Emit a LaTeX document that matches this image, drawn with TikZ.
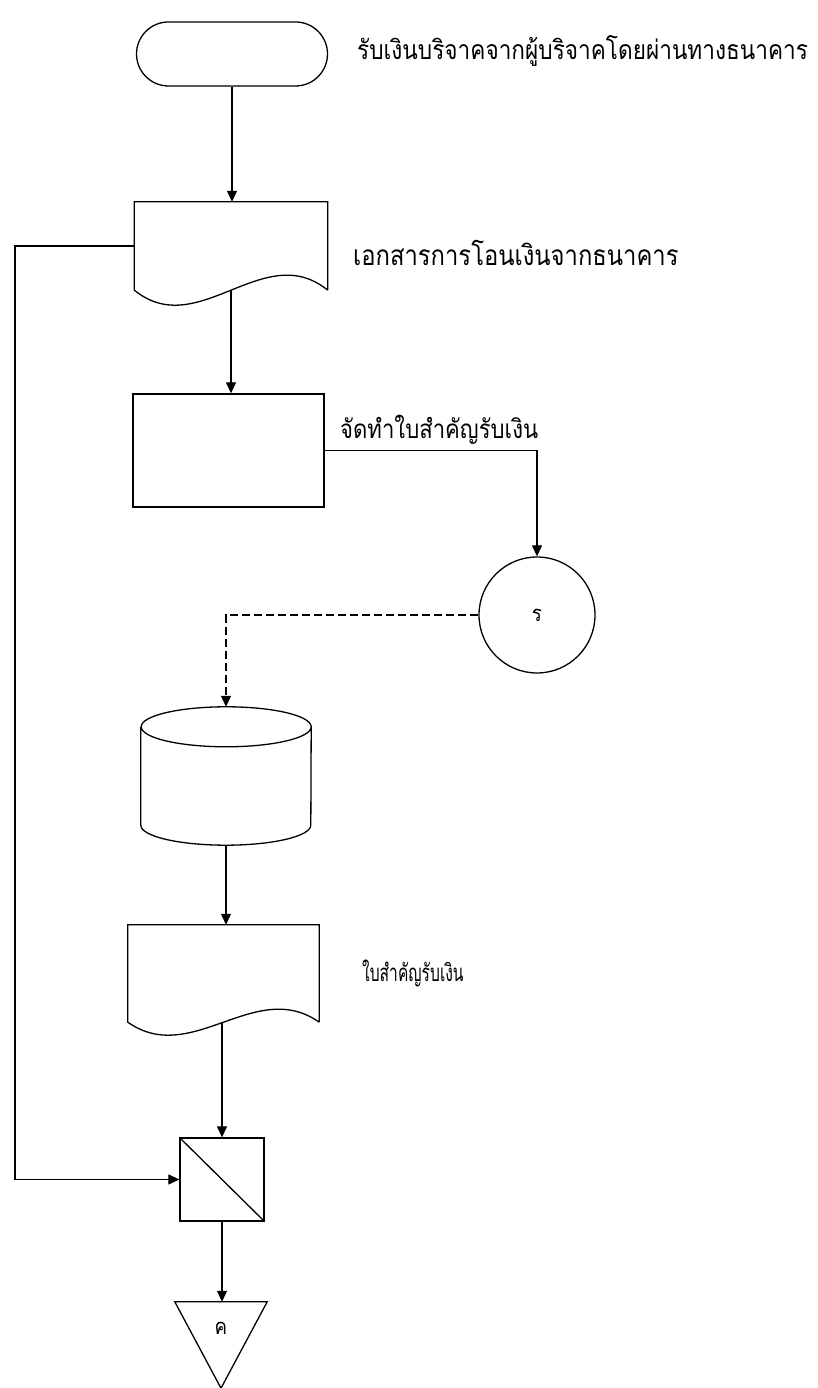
\documentclass[tikz,border=0pt]{standalone}
\usepackage{fontspec}
\newfontfamily\thaifont[Script=Thai,FakeStretch=0.85]{Loma}
\newfontfamily\thainarrow[Script=Thai,FakeStretch=0.65]{Loma}
\usetikzlibrary{arrows.meta,positioning}
\tikzset{
  shape line/.style={
    draw=black,
    line width=1.3pt
  },
  terminal/.style={
    shape line,
    rounded corners=32pt,
    minimum width=191pt,
    minimum height=64pt
  },
  doc frame/.style={
    inner sep=0pt,
    minimum width=193pt,
    minimum height=88pt
  },
  process/.style={
    shape line,
    minimum width=191pt,
    minimum height=113pt
  },
  onpage/.style={
    shape line,
    circle,
    inner sep=0pt,
    minimum size=116pt,
    font=\thaifont\fontsize{22}{24}\selectfont
  },
  disk frame/.style={
    inner sep=0pt,
    minimum width=170pt,
    minimum height=138pt
  },
  collate/.style={
    shape line,
    inner sep=0pt,
    minimum width=84pt,
    minimum height=83pt
  },
  offpage frame/.style={
    inner sep=0pt,
    minimum width=92pt,
    minimum height=86pt
  },
  caption/.style={
    anchor=west,
    inner sep=0pt,
    font=\thaifont\fontsize{26}{28}\selectfont
  },
  flow/.style={
    -{Triangle[length=11pt,width=10pt]},
    line width=1.2pt
  }
}

\begin{document}
\begin{tikzpicture}[x=1pt,y=1pt]
  \useasboundingbox (0,0) rectangle (818,1388);

  \node[terminal] (start) at (232,1334) {};
  \node[caption,font=\thaifont\fontsize{26.6}{28}\selectfont] (startcap) at (357,1337) {รับเงินบริจาคจากผู้บริจาคโดยผ่านทางธนาคาร};

  \node[doc frame] (bankdoc) at (231,1142) {};
  \draw[shape line] (bankdoc.south east) -- (bankdoc.north east) -- (bankdoc.north west)
    -- (bankdoc.south west) .. controls +(64,-52) and +(-64,52) .. (bankdoc.south east);
  \node[caption,font=\thaifont\fontsize{28}{30}\selectfont] (bankcap) at (353,1135) {เอกสารการโอนเงินจากธนาคาร};

  \node[process] (prepare) at (228.5,937.5) {};
  \node[caption] (preparecap) at (340,958) {จัดทำใบสำคัญรับเงิน};

  \node[onpage] (conn) at (537,773) {ร};

  \node[disk frame] (disk) at (226,612) {};
  \draw[shape line] ([yshift=-20pt]disk.north west) -- ([yshift=20pt]disk.south west)
    arc[start angle=180,end angle=360,x radius=85pt,y radius=20pt]
    -- ([yshift=-20pt]disk.north east)
    arc[start angle=0,end angle=360,x radius=85pt,y radius=20pt];

  \node[doc frame,minimum width=191pt,minimum height=97pt] (receipt) at (223.5,414.5) {};
  \draw[shape line] (receipt.south east) -- (receipt.north east) -- (receipt.north west)
    -- (receipt.south west) .. controls +(64,-45) and +(-64,45) .. (receipt.south east);
  \node[caption,font=\thainarrow\fontsize{24}{26}\selectfont] (receiptcap) at (362,415) {ใบสำคัญรับเงิน};

  \node[collate] (match) at (222,208.5) {};
  \draw[shape line] (match.north west) -- (match.south east);

  \node[offpage frame] (offpage) at (221,43) {};
  \draw[shape line] (offpage.north west) -- (offpage.north east) -- (offpage.south) -- cycle;
  \node[font=\thaifont\fontsize{22}{24}\selectfont] (offpagecap) at (221,60) {ค};

  \coordinate (bus) at (15,700);

  \draw[flow] (start.south) -- (start.south |- bankdoc.north);
  \draw[flow] (bankdoc.south) -- (bankdoc.south |- prepare.north);
  \draw[flow] (prepare.east) -| (conn.north);
  \draw[flow,dash pattern=on 8pt off 4pt] (conn.west) -| (disk.north);
  \draw[flow] (disk.south) -- (disk.south |- receipt.north);
  \draw[flow] (match.north |- receipt.south) -- (match.north);
  \draw[flow] (bankdoc.west) -- (bankdoc.west -| bus) -- (bus |- match.west) -- (match.west);
  \draw[flow] (match.south) -- (match.south |- offpage.north);
\end{tikzpicture}
\end{document}
